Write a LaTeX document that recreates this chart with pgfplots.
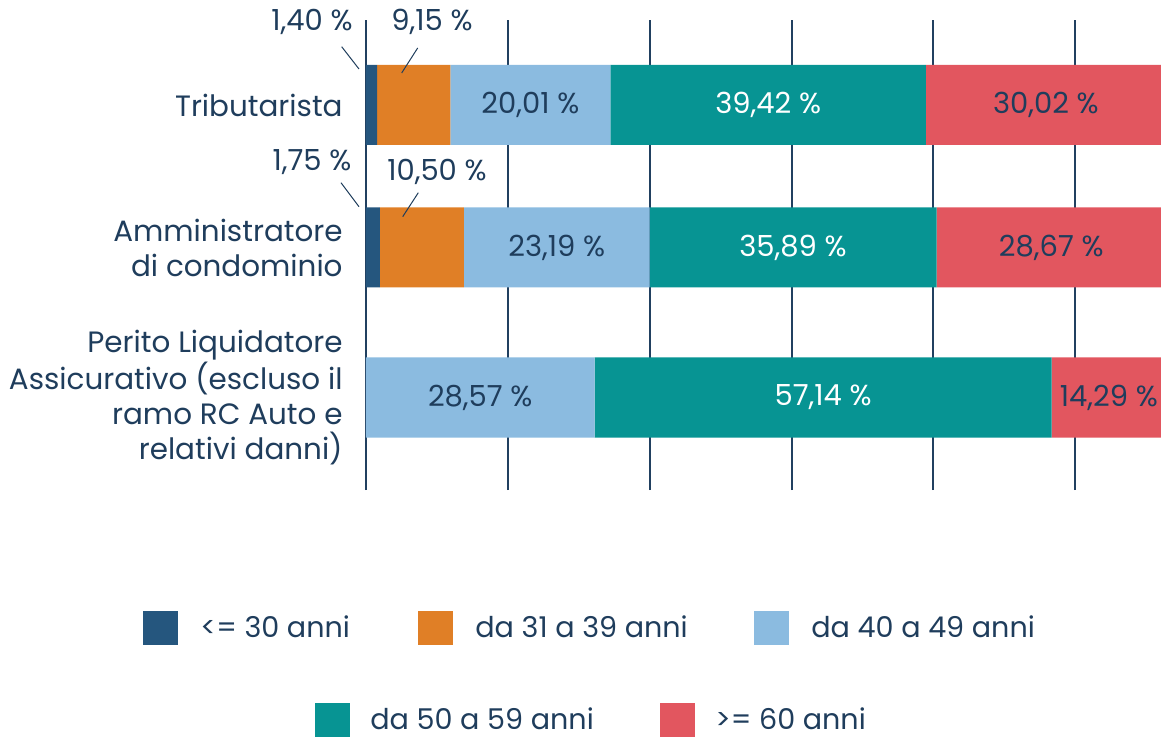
\documentclass[border=0pt]{standalone}
\usepackage{fontspec}
\setmainfont{Poppins}
\usepackage{pgfplots}
\pgfplotsset{compat=1.18}
\definecolor{c1}{RGB}{37,86,126}
\definecolor{c2}{RGB}{224,127,38}
\definecolor{c3}{RGB}{139,187,224}
\definecolor{c4}{RGB}{7,148,147}
\definecolor{c5}{RGB}{226,86,95}
\definecolor{textblue}{RGB}{31,61,92}
\definecolor{gridblue}{RGB}{33,64,96}

\tikzset{
  vlab/.style={text=textblue, font=\fontsize{14.5}{17}\selectfont},
  catlab/.style={text=textblue, anchor=east, align=right, inner sep=0pt,
    font=\fontsize{14.7}{17.5}\selectfont},
  lead/.style={textblue, line width=0.5pt},
}

\begin{document}
\begin{tikzpicture}
\begin{axis}[
  scale only axis, width=400pt, height=235pt,
  xmin=0, xmax=100, ymin=-490, ymax=-20,
  xbar stacked,
  bar width=40pt,
  axis line style={draw=none},
  xtick={0,17.75,35.5,53.25,70.875,88.625},
  xticklabels={},
  ytick=\empty,
  major tick length=0pt,
  xmajorgrids,
  grid style={draw=gridblue, line width=1.2pt},
  clip=false,
  legend columns=3,
  legend style={draw=none, fill=none, inner sep=0pt, anchor=west,
    at={(-0.27875,-0.2936)},
    nodes={inner sep=0pt, text=textblue, font=\fontsize{14.3}{17}\selectfont},
    /tikz/every odd column/.style={column sep=11pt}},
  legend image code/.code={\fill[#1] (0pt,-8.5pt) rectangle (17.5pt,8.5pt);},
  after end axis/.append code={
    \node[vlab] at (axis cs:20.555,-105) {20,01 \%};
    \node[vlab, text=white] at (axis cs:50.27,-105) {39,42 \%};
    \node[vlab] at (axis cs:84.99,-105) {30,02 \%};
    \node[vlab] at (axis cs:23.845,-247.5) {23,19 \%};
    \node[vlab, text=white] at (axis cs:53.385,-247.5) {35,89 \%};
    \node[vlab] at (axis cs:85.665,-247.5) {28,67 \%};
    \node[vlab] at (axis cs:14.285,-397.5) {28,57 \%};
    \node[vlab, text=white] at (axis cs:57.14,-397.5) {57,14 \%};
    \node[vlab] at (axis cs:92.855,-397.5) {14,29 \%};
    \draw[lead] (axis cs:-3.04,-46.7) -- (axis cs:-0.875,-69);
    \draw[lead] (axis cs:6.46,-48) -- (axis cs:4.46,-73);
    \draw[lead] (axis cs:-3.125,-182.7) -- (axis cs:-0.875,-206.7);
    \draw[lead] (axis cs:6.54,-192.7) -- (axis cs:4.59,-216.7);
  },
]
\addplot[fill=c1, draw=none] coordinates {(1.40,-105) (1.75,-247.5) (0,-397.5)};
\addplot[fill=c2, draw=none] coordinates {(9.15,-105) (10.50,-247.5) (0,-397.5)};
\addplot[fill=c3, draw=none] coordinates {(20.01,-105) (23.19,-247.5) (28.57,-397.5)};
\addplot[fill=c4, draw=none] coordinates {(39.42,-105) (35.89,-247.5) (57.14,-397.5)};
\addplot[fill=c5, draw=none] coordinates {(30.02,-105) (28.67,-247.5) (14.29,-397.5)};
\legend{\makebox[109pt][l]{<= 30 anni},\makebox[139.5pt][l]{da 31 a 39 anni},da 40 a 49 anni}

\node[vlab] at (axis cs:-6.75,-22) {1,40 \%};
\node[vlab] at (axis cs:8.25,-22) {9,15 \%};
\node[vlab] at (axis cs:-6.75,-162) {1,75 \%};
\node[vlab] at (axis cs:8.875,-172) {10,50 \%};

\node[catlab] at (axis cs:-2.875,-105) {Tributarista};
\node[catlab] at (axis cs:-2.875,-247.5) {Amministratore\\di condominio};
\node[catlab] at (axis cs:-2.875,-397.5) {Perito Liquidatore\\Assicurativo (escluso il\hspace*{0.3em}\\ramo RC Auto e\\relativi danni)};
\coordinate (BL) at (axis cs:-45.75,-738);
\coordinate (TR) at (axis cs:99.375,0);
\end{axis}

\begin{axis}[
  scale only axis, width=400pt, height=235pt,
  xmin=0, xmax=100, ymin=-490, ymax=-20,
  hide axis,
  legend columns=2,
  legend style={draw=none, fill=none, inner sep=0pt, anchor=west,
    at={(-0.06375,-0.4894)},
    nodes={inner sep=0pt, text=textblue, font=\fontsize{14.3}{17}\selectfont},
    /tikz/every odd column/.style={column sep=10pt}},
  legend image code/.code={\fill[#1] (0pt,-8.5pt) rectangle (17.5pt,8.5pt);},
]
\addlegendimage{fill=c4, draw=none}
\addlegendimage{fill=c5, draw=none}
\legend{\makebox[145pt][l]{da 50 a 59 anni},>= 60 anni}
\end{axis}
\pgfresetboundingbox
\useasboundingbox (BL) rectangle (TR);
\end{tikzpicture}
\end{document}
